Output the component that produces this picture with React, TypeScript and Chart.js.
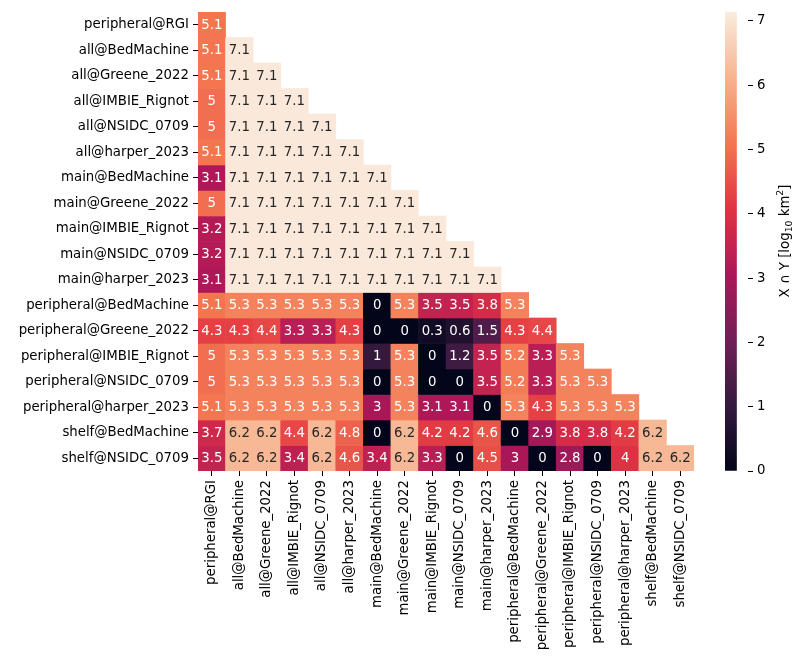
import { useEffect, useRef } from "react";
import { Chart, registerables } from "chart.js";

Chart.register(...registerables);

const rowLabels: string[] = [
  "peripheral@RGI",
  "all@BedMachine",
  "all@Greene_2022",
  "all@IMBIE_Rignot",
  "all@NSIDC_0709",
  "all@harper_2023",
  "main@BedMachine",
  "main@Greene_2022",
  "main@IMBIE_Rignot",
  "main@NSIDC_0709",
  "main@harper_2023",
  "peripheral@BedMachine",
  "peripheral@Greene_2022",
  "peripheral@IMBIE_Rignot",
  "peripheral@NSIDC_0709",
  "peripheral@harper_2023",
  "shelf@BedMachine",
  "shelf@NSIDC_0709",
];

const colLabels: string[] = [...rowLabels];

// lower triangle (incl. diagonal), one row per rowLabels entry
const cellValues: number[][] = [
  [5.1],
  [5.1, 7.1],
  [5.1, 7.1, 7.1],
  [5, 7.1, 7.1, 7.1],
  [5, 7.1, 7.1, 7.1, 7.1],
  [5.1, 7.1, 7.1, 7.1, 7.1, 7.1],
  [3.1, 7.1, 7.1, 7.1, 7.1, 7.1, 7.1],
  [5, 7.1, 7.1, 7.1, 7.1, 7.1, 7.1, 7.1],
  [3.2, 7.1, 7.1, 7.1, 7.1, 7.1, 7.1, 7.1, 7.1],
  [3.2, 7.1, 7.1, 7.1, 7.1, 7.1, 7.1, 7.1, 7.1, 7.1],
  [3.1, 7.1, 7.1, 7.1, 7.1, 7.1, 7.1, 7.1, 7.1, 7.1, 7.1],
  [5.1, 5.3, 5.3, 5.3, 5.3, 5.3, 0, 5.3, 3.5, 3.5, 3.8, 5.3],
  [4.3, 4.3, 4.4, 3.3, 3.3, 4.3, 0, 0, 0.3, 0.6, 1.5, 4.3, 4.4],
  [5, 5.3, 5.3, 5.3, 5.3, 5.3, 1, 5.3, 0, 1.2, 3.5, 5.2, 3.3, 5.3],
  [5, 5.3, 5.3, 5.3, 5.3, 5.3, 0, 5.3, 0, 0, 3.5, 5.2, 3.3, 5.3, 5.3],
  [5.1, 5.3, 5.3, 5.3, 5.3, 5.3, 3, 5.3, 3.1, 3.1, 0, 5.3, 4.3, 5.3, 5.3, 5.3],
  [3.7, 6.2, 6.2, 4.4, 6.2, 4.8, 0, 6.2, 4.2, 4.2, 4.6, 0, 2.9, 3.8, 3.8, 4.2, 6.2],
  [3.5, 6.2, 6.2, 3.4, 6.2, 4.6, 3.4, 6.2, 3.3, 0, 4.5, 3, 0, 2.8, 0, 4, 6.2, 6.2],
];

const colorbarTicks: number[] = [0, 1, 2, 3, 4, 5, 6, 7];
const vmin = 0;
const vmax = 7.14;
// colorbar title pieces: [text, kind] where kind is "n" normal, "sub" subscript, "sup" superscript
const colorbarTitleParts: [string, string][] = [
  ["X \u2229 Y [log", "n"],
  ["10", "sub"],
  [" km", "n"],
  ["2", "sup"],
  ["]", "n"],
];

// approximation of seaborn "rocket" colormap
const rocketStops: [number, string][] = [
  [0, "#03051a"],
  [1 / 7, "#35193e"],
  [2 / 7, "#701f57"],
  [3 / 7, "#ad1759"],
  [4 / 7, "#e13342"],
  [5 / 7, "#f37651"],
  [6 / 7, "#f6b48f"],
  [1, "#faebdd"],
];

const FONT = { family: "'DejaVu Sans', sans-serif", size: 13.3 };

function hexToRgb(h: string): [number, number, number] {
  const n = parseInt(h.slice(1), 16);
  return [(n >> 16) & 255, (n >> 8) & 255, n & 255];
}

function rocket(t: number): [number, number, number] {
  const x = Math.max(0, Math.min(1, t));
  for (let k = 0; k < rocketStops.length - 1; k++) {
    const [p0, c0] = rocketStops[k];
    const [p1, c1] = rocketStops[k + 1];
    if (x <= p1) {
      const f = (x - p0) / (p1 - p0);
      const a = hexToRgb(c0);
      const b = hexToRgb(c1);
      return [0, 1, 2].map((i) => Math.round(a[i] + (b[i] - a[i]) * f)) as [number, number, number];
    }
  }
  return hexToRgb(rocketStops[rocketStops.length - 1][1]);
}

function cellColor(v: number): string {
  const [r, g, b] = rocket((v - vmin) / (vmax - vmin));
  return `rgb(${r},${g},${b})`;
}

function textColorFor(v: number): string {
  const rgb = rocket((v - vmin) / (vmax - vmin)).map((c) => {
    const s = c / 255;
    return s <= 0.03928 ? s / 12.92 : Math.pow((s + 0.055) / 1.055, 2.4);
  });
  const lum = 0.2126 * rgb[0] + 0.7152 * rgb[1] + 0.0722 * rgb[2];
  return lum > 0.408 ? "#262626" : "#ffffff";
}

function fmt(v: number): string {
  return String(Number(v.toPrecision(2)));
}

export default function App() {
  const mainRef = useRef<HTMLCanvasElement | null>(null);
  const cbRef = useRef<HTMLCanvasElement | null>(null);

  useEffect(() => {
    if (!mainRef.current || !cbRef.current) return;

    const datasets = cellValues.map((row, i) => ({
      label: rowLabels[i],
      data: colLabels.map((_, j) => (j < row.length ? [i - 0.5, i + 0.5] : null)),
      backgroundColor: colLabels.map((_, j) => (j < row.length ? cellColor(row[j]) : "rgba(0,0,0,0)")),
      borderWidth: 0,
      barPercentage: 1,
      categoryPercentage: 1,
    }));

    const annotate = {
      id: "annotate",
      afterDatasetsDraw(chart: any) {
        const ctx = chart.ctx;
        ctx.save();
        ctx.font = `${FONT.size}px ${FONT.family}`;
        ctx.textAlign = "center";
        ctx.textBaseline = "middle";
        cellValues.forEach((row, i) => {
          const meta = chart.getDatasetMeta(i);
          row.forEach((v, j) => {
            const el = meta.data[j];
            if (!el) return;
            const p = el.getProps(["x", "y", "base"], true);
            ctx.fillStyle = textColorFor(v);
            ctx.fillText(fmt(v), p.x, (p.y + p.base) / 2 + 0.5);
          });
        });
        ctx.restore();
      },
    };

    const main = new Chart(mainRef.current, {
      type: "bar",
      data: { labels: colLabels, datasets: datasets as any },
      options: {
        animation: false,
        responsive: false,
        maintainAspectRatio: false,
        layout: { padding: { left: 0, top: 9, right: 16, bottom: 0 } },
        plugins: { legend: { display: false }, tooltip: { enabled: false } },
        scales: {
          x: {
            type: "category",
            stacked: true,
            offset: true,
            grid: {
              display: true,
              drawOnChartArea: false,
              drawTicks: true,
              tickLength: 5,
              color: "#000",
              offset: false,
            },
            border: { display: false },
            ticks: {
              autoSkip: false,
              maxRotation: 90,
              minRotation: 90,
              color: "#000",
              font: FONT,
              padding: 4,
            },
            afterFit(s: any) {
              s.height = 198;
            },
          },
          y: {
            type: "linear",
            stacked: false,
            reverse: true,
            min: -0.5,
            max: 17.5,
            afterBuildTicks(s: any) {
              s.ticks = rowLabels.map((_, i) => ({ value: i }));
            },
            grid: {
              display: true,
              drawOnChartArea: false,
              drawTicks: true,
              tickLength: 5,
              color: "#000",
            },
            border: { display: false },
            ticks: {
              autoSkip: false,
              color: "#000",
              font: FONT,
              padding: 4,
              callback: (v: any) => rowLabels[Math.round(Number(v))] ?? "",
            },
            afterFit(s: any) {
              s.width = 198;
            },
          },
        },
      } as any,
      plugins: [annotate],
    });

    const cbLabel = {
      id: "cbLabel",
      afterDraw(chart: any) {
        const ctx = chart.ctx;
        const small = FONT.size * 0.7;
        const fontFor = (k: string) => `${k === "n" ? FONT.size : small}px ${FONT.family}`;
        ctx.save();
        ctx.translate(74, 241);
        ctx.rotate(-Math.PI / 2);
        ctx.fillStyle = "#000";
        ctx.textAlign = "left";
        ctx.textBaseline = "alphabetic";
        let total = 0;
        colorbarTitleParts.forEach(([t, k]) => {
          ctx.font = fontFor(k);
          total += ctx.measureText(t).width;
        });
        let x = -total / 2;
        const base = 4.8;
        colorbarTitleParts.forEach(([t, k]) => {
          ctx.font = fontFor(k);
          const dy = k === "sub" ? 2.8 : k === "sup" ? -5.5 : 0;
          ctx.fillText(t, x, base + dy);
          x += ctx.measureText(t).width;
        });
        ctx.restore();
      },
    };

    const cb = new Chart(cbRef.current, {
      type: "bar",
      data: {
        labels: [""],
        datasets: [
          {
            data: [[vmin, vmax]] as any,
            borderWidth: 0,
            barPercentage: 1,
            categoryPercentage: 1,
            backgroundColor: (c: any) => {
              const area = c.chart.chartArea;
              if (!area) return "#000";
              const g = c.chart.ctx.createLinearGradient(0, area.bottom, 0, area.top);
              rocketStops.forEach(([p, col]) => g.addColorStop(p, col));
              return g;
            },
          },
        ],
      },
      options: {
        animation: false,
        responsive: false,
        maintainAspectRatio: false,
        layout: { padding: { left: 15, top: 9, right: 0, bottom: 198 } },
        plugins: { legend: { display: false }, tooltip: { enabled: false } },
        scales: {
          x: { display: false, offset: false },
          y: {
            position: "right",
            min: vmin,
            max: vmax,
            afterBuildTicks(s: any) {
              s.ticks = colorbarTicks.map((v) => ({ value: v }));
            },
            grid: {
              display: true,
              drawOnChartArea: false,
              drawTicks: true,
              tickLength: 5,
              color: "#000",
            },
            border: { display: false },
            ticks: { color: "#000", font: FONT, padding: 4 },
            afterFit(s: any) {
              s.width = 55;
            },
          },
        },
      } as any,
      plugins: [cbLabel],
    });

    return () => {
      main.destroy();
      cb.destroy();
    };
  }, []);

  return (
    <div style={{ position: "fixed", left: 0, top: 0, width: 803, height: 669, background: "#fff" }}>
      <canvas
        ref={mainRef}
        width={710}
        height={669}
        style={{ position: "absolute", left: 0, top: 0, width: 710, height: 669 }}
      />
      <canvas
        ref={cbRef}
        width={93}
        height={669}
        style={{ position: "absolute", left: 710, top: 0, width: 93, height: 669 }}
      />
    </div>
  );
}
